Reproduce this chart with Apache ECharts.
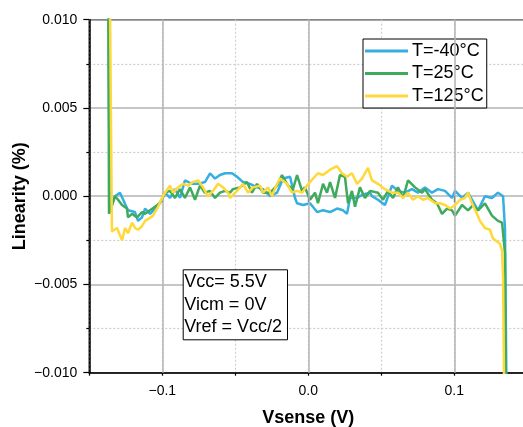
<!DOCTYPE html>
<html>
<head>
<meta charset="utf-8">
<script src="https://cdn.jsdelivr.net/npm/echarts@6/dist/echarts.min.js"></script>
<style>
  html, body { margin: 0; padding: 0; background: #fff; }
  #chart { width: 523px; height: 427px; }
</style>
</head>
<body>
<div id="chart"></div>
<script>
// Linearity error vs. sense voltage at three temperatures
const seriesNames = ['T=-40°C', 'T=25°C', 'T=125°C'];

const vsenseM40 = [
  -0.1370, -0.1360, -0.1324, -0.1290, -0.1235, -0.1187, -0.1166, -0.1139, -0.1118, -0.1084,
  -0.1050, -0.1002, -0.0981, -0.0947, -0.0913, -0.0879, -0.0845, -0.0797, -0.0755, -0.0708,
  -0.0673, -0.0639, -0.0605, -0.0570, -0.0522, -0.0488, -0.0447, -0.0399, -0.0351, -0.0310,
  -0.0262, -0.0214, -0.0173, -0.0125, -0.0091, -0.0077, -0.0036, 0.0012, 0.0060, 0.0101,
  0.0149, 0.0197, 0.0238, 0.0265, 0.0286, 0.0334, 0.0375, 0.0423, 0.0436, 0.0477,
  0.0525, 0.0573, 0.0614, 0.0662, 0.0710, 0.0751, 0.0799, 0.0847, 0.0888, 0.0936,
  0.0984, 0.1005, 0.1053, 0.1094, 0.1162, 0.1210, 0.1258, 0.1299, 0.1334, 0.1347,
  0.1359
];
const linM40 = [
  0.0125, -0.0009, 0.0000, 0.0002, -0.0008, -0.0009, -0.0014, -0.0012, -0.0007, -0.0010,
  -0.0007, -0.0002, 0.0002, -0.0001, 0.0004, -0.0001, 0.0009, 0.0007, 0.0007, 0.0008,
  0.0013, 0.0010, 0.0012, 0.0013, 0.0013, 0.0011, 0.0008, 0.0007, 0.0005, 0.0004,
  0.0000, 0.0002, 0.0010, 0.0011, -0.0001, -0.0004, -0.0005, -0.0004, -0.0009, -0.0008,
  -0.0009, -0.0007, -0.0008, -0.0010, -0.0001, -0.0001, 0.0001, 0.0002, 0.0000, -0.0002,
  -0.0005, 0.0006, 0.0003, 0.0002, 0.0004, 0.0002, 0.0005, 0.0002, 0.0004, 0.0003,
  -0.0001, 0.0003, -0.0001, 0.0002, -0.0008, 0.0000, -0.0001, 0.0002, 0.0000, -0.0018,
  -0.0125
];

const vsense25 = [
  -0.1370, -0.1365, -0.1324, -0.1303, -0.1276, -0.1242, -0.1235, -0.1207, -0.1173, -0.1139,
  -0.1118, -0.1084, -0.1050, -0.1016, -0.0981, -0.0947, -0.0913, -0.0879, -0.0845, -0.0810,
  -0.0776, -0.0742, -0.0708, -0.0673, -0.0639, -0.0605, -0.0570, -0.0536, -0.0516, -0.0468,
  -0.0420, -0.0386, -0.0351, -0.0310, -0.0262, -0.0214, -0.0180, -0.0139, -0.0105, -0.0077,
  -0.0043, -0.0023, 0.0012, 0.0046, 0.0066, 0.0101, 0.0128, 0.0149, 0.0183, 0.0217,
  0.0251, 0.0272, 0.0299, 0.0320, 0.0354, 0.0388, 0.0423, 0.0436, 0.0477, 0.0512,
  0.0546, 0.0580, 0.0614, 0.0649, 0.0683, 0.0731, 0.0779, 0.0799, 0.0847, 0.0881,
  0.0916, 0.0950, 0.0984, 0.1005, 0.1053, 0.1094, 0.1128, 0.1162, 0.1210, 0.1258,
  0.1299, 0.1327, 0.1347, 0.1354
];
const lin25 = [
  0.0125, -0.0010, 0.0000, -0.0002, -0.0005, -0.0007, -0.0012, -0.0010, -0.0012, -0.0009,
  -0.0010, -0.0008, -0.0006, -0.0004, 0.0002, 0.0003, -0.0001, 0.0004, -0.0001, 0.0005,
  -0.0002, 0.0006, 0.0002, 0.0003, -0.0001, 0.0002, 0.0003, 0.0002, 0.0004, 0.0005,
  0.0008, 0.0002, 0.0007, 0.0002, 0.0002, 0.0006, 0.0012, 0.0006, 0.0004, 0.0012,
  0.0003, 0.0005, -0.0002, 0.0002, -0.0004, 0.0007, 0.0002, 0.0008, -0.0001, 0.0012,
  0.0011, -0.0004, 0.0003, -0.0006, 0.0005, -0.0001, 0.0003, 0.0002, 0.0002, -0.0002,
  0.0003, -0.0001, 0.0005, -0.0001, 0.0009, 0.0005, 0.0002, 0.0004, -0.0002, -0.0004,
  -0.0010, -0.0007, -0.0008, -0.0011, -0.0005, -0.0008, -0.0005, -0.0008, -0.0004, -0.0011,
  -0.0014, -0.0015, -0.0032, -0.0125
];

const vsense125 = [
  -0.1360, -0.1345, -0.1338, -0.1310, -0.1276, -0.1255, -0.1235, -0.1207, -0.1187, -0.1166,
  -0.1139, -0.1118, -0.1098, -0.1064, -0.1029, -0.1002, -0.0981, -0.0947, -0.0927, -0.0892,
  -0.0858, -0.0824, -0.0790, -0.0755, -0.0721, -0.0687, -0.0653, -0.0618, -0.0584, -0.0550,
  -0.0536, -0.0488, -0.0447, -0.0413, -0.0379, -0.0331, -0.0310, -0.0276, -0.0249, -0.0214,
  -0.0194, -0.0146, -0.0112, -0.0077, -0.0043, -0.0009, 0.0032, 0.0066, 0.0101, 0.0149,
  0.0197, 0.0231, 0.0265, 0.0299, 0.0334, 0.0368, 0.0409, 0.0436, 0.0477, 0.0525,
  0.0573, 0.0614, 0.0649, 0.0683, 0.0717, 0.0751, 0.0786, 0.0820, 0.0868, 0.0902,
  0.0936, 0.0971, 0.1005, 0.1039, 0.1073, 0.1094, 0.1121, 0.1155, 0.1176, 0.1210,
  0.1244, 0.1265, 0.1313, 0.1327, 0.1334, 0.1343
];
const lin125 = [
  0.0125, -0.0020, -0.0019, -0.0018, -0.0025, -0.0018, -0.0021, -0.0015, -0.0018, -0.0019,
  -0.0017, -0.0014, -0.0013, -0.0011, -0.0006, -0.0001, 0.0002, 0.0006, 0.0002, 0.0005,
  0.0007, 0.0006, 0.0008, 0.0009, 0.0005, 0.0000, 0.0003, 0.0007, 0.0005, 0.0002,
  -0.0001, 0.0003, 0.0007, 0.0002, 0.0005, 0.0006, 0.0002, 0.0005, 0.0000, 0.0007,
  0.0010, 0.0007, 0.0002, 0.0003, 0.0002, 0.0006, 0.0010, 0.0013, 0.0012, 0.0015,
  0.0017, 0.0013, 0.0011, 0.0013, 0.0007, 0.0010, 0.0016, 0.0009, 0.0007, 0.0004,
  0.0002, 0.0002, -0.0001, 0.0002, -0.0002, 0.0000, -0.0002, -0.0001, -0.0004, -0.0004,
  -0.0005, -0.0007, -0.0005, -0.0002, -0.0001, 0.0002, -0.0004, -0.0010, -0.0014, -0.0018,
  -0.0019, -0.0024, -0.0027, -0.0031, -0.0046, -0.0125
];

// Axis ticks
const xMajorTicks = [-0.1, 0, 0.1];
const xTickLabels = ['\u22120.1', '0.0', '0.1'];
const yTickValues = [-0.010, -0.005, 0.000, 0.005, 0.010];
const yTickLabels = ['\u22120.010', '\u22120.005', '0.000', '0.005', '0.010'];

const conditionsText = ['Vcc= 5.5V', 'Vicm = 0V', 'Vref = Vcc/2'];

const colors = ['#35AFE2', '#3DAA5C', '#FFD93A'];
const FONT = '"Liberation Sans", Arial, sans-serif';

function pairs(xs, ys) { return xs.map((x, i) => [x, ys[i]]); }
function xLabel(v) {
  const i = xMajorTicks.findIndex(t => Math.abs(t - v) < 1e-9);
  return i >= 0 ? xTickLabels[i] : '';
}
function yLabel(v) {
  const i = yTickValues.findIndex(t => Math.abs(t - v) < 1e-9);
  return i >= 0 ? yTickLabels[i] : '';
}

const chart = echarts.init(document.getElementById('chart'), null, { renderer: 'canvas' });

const lineSeries = [
  [vsenseM40, linM40],
  [vsense25, lin25],
  [vsense125, lin125]
].map((d, i) => ({
  name: seriesNames[i],
  type: 'line',
  xAxisIndex: 0,
  yAxisIndex: 0,
  data: pairs(d[0], d[1]),
  showSymbol: false,
  symbol: 'none',
  clip: true,
  z: 3 + i,
  lineStyle: { color: colors[i], width: 2.5 },
  itemStyle: { color: colors[i] },
  emphasis: { disabled: true },
  animation: false
}));

// solid major gridlines along x
const gridSeries = {
  name: '_grid',
  type: 'line',
  data: [],
  z: 1,
  silent: true,
  animation: false,
  markLine: {
    silent: true,
    symbol: 'none',
    label: { show: false },
    animation: false,
    lineStyle: { color: '#b3b3b3', width: 1.5, type: 'solid' },
    data: xMajorTicks.map(v => ({ xAxis: v }))
  }
};

chart.setOption({
  animation: false,
  backgroundColor: '#ffffff',
  textStyle: { fontFamily: FONT },
  grid: {
    left: 89.3, top: 19.7, width: 438, bottom: 54.3,
    containLabel: false,
    outerBoundsMode: 'none',
    show: true, borderColor: '#000', borderWidth: 1.5, backgroundColor: 'transparent'
  },
  legend: {
    data: seriesNames,
    orient: 'vertical',
    left: 363, top: 39,
    padding: [1, 3, 1, 2],
    itemGap: 0.5,
    itemWidth: 43,
    itemHeight: 3,
    icon: 'rect',
    backgroundColor: '#ffffff',
    borderColor: '#000',
    borderWidth: 1,
    borderRadius: 0,
    selectedMode: false,
    textStyle: { fontFamily: FONT, fontSize: 18, color: '#000', lineHeight: 22, padding: [0, 0, 0, -1] }
  },
  xAxis: [
    {
      type: 'value', min: -0.15, max: 0.15, interval: 0.05, position: 'bottom',
      name: 'Vsense (V)', nameLocation: 'middle', nameGap: 36, nameMoveOverlap: false,
      nameTextStyle: { fontFamily: FONT, fontSize: 18, fontWeight: 'bold', color: '#000' },
      axisLine: { show: true, onZero: false, lineStyle: { color: '#000', width: 1.5 } },
      axisTick: { show: true, inside: false, length: 3, lineStyle: { color: '#000', width: 1.2 } },
      axisLabel: { show: false },
      splitLine: { show: true, lineStyle: { color: '#cfcfcf', width: 1.2, type: [2, 2] } }
    },
    {
      type: 'value', min: -0.15, max: 0.15, position: 'bottom',
      axisLine: { show: false },
      axisTick: { show: true, inside: false, length: 6, customValues: xMajorTicks, lineStyle: { color: '#000', width: 1.2 } },
      axisLabel: {
        show: true, margin: 11, customValues: xMajorTicks, formatter: xLabel,
        fontFamily: FONT, fontSize: 14, color: '#000'
      },
      splitLine: { show: false }
    }
  ],
  yAxis: {
    type: 'value', min: -0.01, max: 0.01, interval: 0.005,
    name: 'Linearity (%)', nameLocation: 'middle', nameGap: 60, nameMoveOverlap: false,
    nameTextStyle: { fontFamily: FONT, fontSize: 18, fontWeight: 'bold', color: '#000' },
    axisLine: { show: true, onZero: false, lineStyle: { color: '#000', width: 1.5 } },
    axisTick: { show: true, inside: false, length: 6, lineStyle: { color: '#000', width: 1.2 } },
    minorTick: { show: true, splitNumber: 2, length: 3, lineStyle: { color: '#000', width: 1.2 } },
    axisLabel: { show: true, margin: 12, formatter: yLabel, fontFamily: FONT, fontSize: 14, color: '#000' },
    splitLine: { show: true, lineStyle: { color: '#b3b3b3', width: 1.5, type: 'solid' } },
    minorSplitLine: { show: true, lineStyle: { color: '#cfcfcf', width: 1.2, type: [2, 2] } }
  },
  graphic: [
    {
      type: 'rect',
      left: 182.7, top: 269.3,
      z: 100,
      shape: { x: 0, y: 0, width: 104.3, height: 70 },
      style: { fill: '#ffffff', stroke: '#000', lineWidth: 1 }
    },
    {
      type: 'text',
      left: 184.2, top: 270.8,
      z: 101,
      style: {
        text: conditionsText.join('\n'),
        font: '18px ' + FONT,
        lineHeight: 22.5,
        fill: '#000',
        align: 'left',
        verticalAlign: 'top'
      }
    }
  ],
  series: [gridSeries].concat(lineSeries)
});
</script>
</body>
</html>
